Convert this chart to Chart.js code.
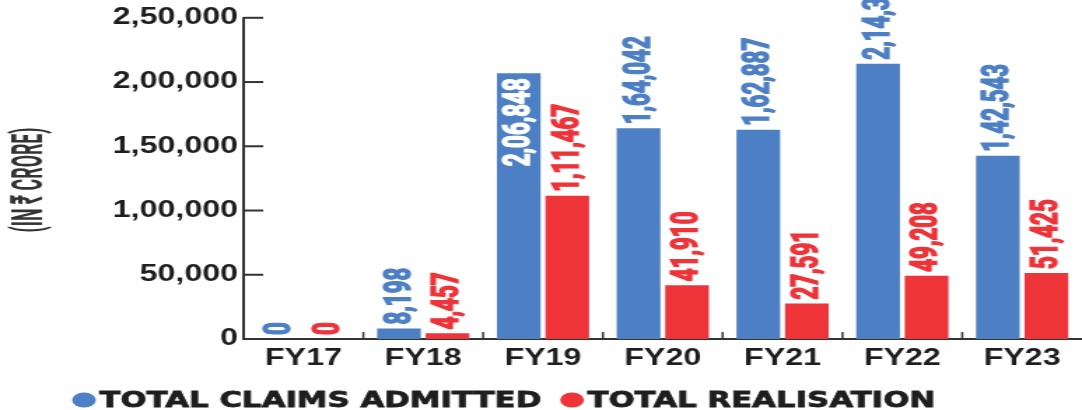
<!DOCTYPE html>
<html>
<head>
<meta charset="utf-8">
<script src="https://cdn.jsdelivr.net/npm/chart.js@4.4.0/dist/chart.umd.min.js"></script>
<style>
  html, body { margin: 0; padding: 0; background: #fff; overflow: hidden; }
</style>
</head>
<body>
<!-- the source graphic is stretched sideways, so the canvas is drawn narrow and widened by CSS -->
<canvas id="c" width="773" height="410" style="width:1082px;height:410px"></canvas>
<script>
const categories = ['FY17', 'FY18', 'FY19', 'FY20', 'FY21', 'FY22', 'FY23'];
const claimsAdmitted = [0, 8198, 206848, 164042, 162887, 214300, 142543];
const totalRealisation = [0, 4457, 111467, 41910, 27591, 49208, 51425];
const yTickLabels = ['0', '50,000', '1,00,000', '1,50,000', '2,00,000', '2,50,000'];
const seriesNames = ['TOTAL CLAIMS ADMITTED', 'TOTAL REALISATION'];
const yTitle = '(IN ₹ CRORE)';
// claims value that is written inside its bar instead of above it
const labelInsideBar = ['FY19'];

const BLUE = '#4d7fc4';
const RED = '#ee3339';
const AXIS = '#333';
const INK = '#1e1e1e';

// indian digit grouping: 2,06,848
function inr(n) {
  const s = String(Math.round(n));
  if (s.length <= 3) return s;
  let rest = s.slice(0, -3);
  const parts = [];
  while (rest.length > 2) {
    parts.unshift(rest.slice(-2));
    rest = rest.slice(0, -2);
  }
  if (rest) parts.unshift(rest);
  return parts.join(',') + ',' + s.slice(-3);
}

const valueLabels = {
  id: 'valueLabels',
  afterDatasetsDraw(chart) {
    const ctx = chart.ctx;
    chart.data.datasets.forEach((ds, di) => {
      chart.getDatasetMeta(di).data.forEach((bar, i) => {
        const inside = di === 0 && labelInsideBar.includes(categories[i]);
        const col = inside ? '#fff' : ds.backgroundColor;
        ctx.save();
        ctx.translate(bar.x, inside ? bar.y + 5 : bar.y - 4);
        ctx.rotate(-Math.PI / 2);
        ctx.scale(0.86, 1);
        ctx.font = 'bold 26px Roboto';
        ctx.textAlign = inside ? 'right' : 'left';
        ctx.textBaseline = 'middle';
        ctx.fillStyle = col;
        ctx.strokeStyle = col;
        ctx.lineWidth = 1.3; // heavier strokes, like the print face
        ctx.fillText(inr(ds.data[i]), 0, 1);
        ctx.strokeText(inr(ds.data[i]), 0, 1);
        ctx.restore();
      });
    });
  }
};

const decorations = {
  id: 'decorations',
  afterDraw(chart) {
    const { ctx, chartArea: a, scales: { x, y } } = chart;
    ctx.save();
    ctx.strokeStyle = AXIS;

    // y ticks point into the plot
    ctx.lineWidth = 2;
    y.ticks.forEach(t => {
      const py = y.getPixelForValue(t.value);
      ctx.beginPath();
      ctx.moveTo(a.left, py);
      ctx.lineTo(a.left + 14, py);
      ctx.stroke();
    });

    // short marks between categories
    ctx.lineWidth = 1.5;
    for (let i = 1; i < categories.length; i++) {
      const px = (x.getPixelForTick(i - 1) + x.getPixelForTick(i)) / 2;
      ctx.beginPath();
      ctx.moveTo(px, a.bottom);
      ctx.lineTo(px, a.bottom - 7);
      ctx.stroke();
    }

    // y title, narrow and tall
    ctx.font = 'bold 32px Roboto';
    const w = ctx.measureText(yTitle).width;
    ctx.save();
    ctx.translate(22, 180);
    ctx.rotate(-Math.PI / 2);
    ctx.scale(105 / w, 1);
    ctx.fillStyle = '#333';
    ctx.textAlign = 'center';
    ctx.textBaseline = 'middle';
    ctx.fillText(yTitle, 0, 0);
    ctx.restore();

    // legend
    ctx.font = 'bold 22px "DejaVu Sans"';
    ctx.textBaseline = 'middle';
    ctx.textAlign = 'left';
    ctx.lineWidth = 0.8;
    let cx = 60;
    const cy = 400;
    chart.data.datasets.forEach(ds => {
      ctx.fillStyle = ds.backgroundColor;
      ctx.beginPath();
      ctx.ellipse(cx, cy, 8.5, 7.5, 0, 0, Math.PI * 2);
      ctx.fill();
      ctx.fillStyle = INK;
      ctx.strokeStyle = INK;
      ctx.fillText(ds.label, cx + 11, cy + 1);
      ctx.strokeText(ds.label, cx + 11, cy + 1);
      cx += 11 + ctx.measureText(ds.label).width + 22;
    });
    ctx.restore();
  }
};

const tickFont = { family: 'Liberation Sans', weight: 'bold' };

new Chart(document.getElementById('c'), {
  type: 'bar',
  data: {
    labels: categories,
    datasets: [
      { label: seriesNames[0], data: claimsAdmitted, backgroundColor: BLUE },
      { label: seriesNames[1], data: totalRealisation, backgroundColor: RED }
    ]
  },
  options: {
    responsive: false,
    devicePixelRatio: 1,
    animation: false,
    layout: { padding: { top: 17, right: 0, bottom: 31, left: 0 } },
    datasets: { bar: { categoryPercentage: 0.81, barPercentage: 0.9 } },
    plugins: { legend: { display: false }, tooltip: { enabled: false } },
    scales: {
      x: {
        grid: { display: false, drawTicks: false },
        border: { display: true, color: AXIS, width: 2 },
        ticks: { color: INK, padding: 6, maxRotation: 0, autoSkip: false, font: { ...tickFont, size: 23 } },
        afterFit: s => { s.height = 40; }
      },
      y: {
        min: 0,
        max: 250000,
        grid: { display: false, drawTicks: false },
        border: { display: true, color: AXIS, width: 2 },
        ticks: {
          stepSize: 50000,
          padding: 4,
          color: INK,
          font: { ...tickFont, size: 23 },
          callback: v => yTickLabels[Math.round(v / 50000)]
        },
        afterFit: s => { s.width = 174; }
      }
    }
  },
  plugins: [valueLabels, decorations]
});
</script>
</body>
</html>
